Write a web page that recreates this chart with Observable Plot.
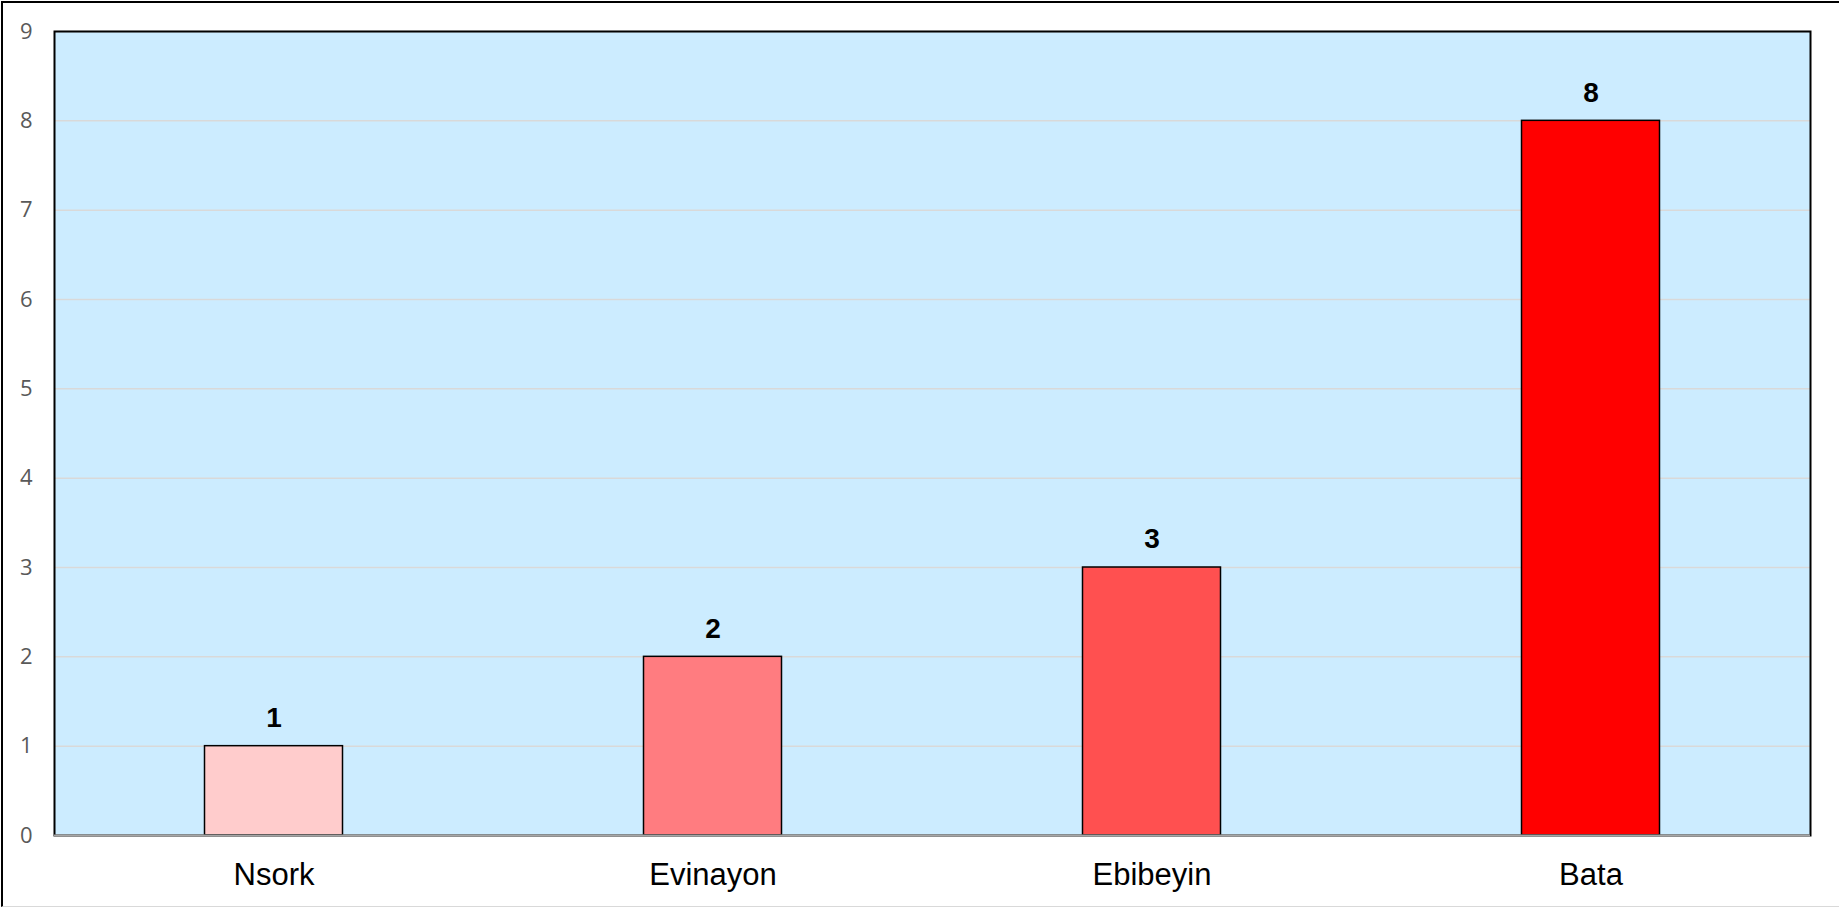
<!DOCTYPE html>
<html>
<head>
<meta charset="utf-8">
<script src="https://cdn.jsdelivr.net/npm/d3@7"></script>
<script src="https://cdn.jsdelivr.net/npm/@observablehq/plot@0.6"></script>
<style>
  html, body { margin: 0; padding: 0; background: #fff; }
  #wrap { position: relative; width: 1839px; height: 907px; overflow: hidden; }
  #outer { position: absolute; left: 1px; top: 1px; width: 1850px; height: 903px;
           border-top: 2px solid #000; border-left: 2px solid #000; border-bottom: 1px solid #d9d9d9;
           pointer-events: none; }
</style>
</head>
<body>
<div id="wrap"><div id="outer"></div></div>
<script>
const categories = ["Nsork", "Evinayon", "Ebibeyin", "Bata"];
const values = [1, 2, 3, 8];
const colors = ["#FFCCCC", "#FF7C80", "#FF5050", "#FF0000"];
const yTicks = [0, 1, 2, 3, 4, 5, 6, 7, 8, 9];

const data = categories.map((c, i) => ({category: c, value: values[i], color: colors[i]}));

const chart = Plot.plot({
  width: 1839,
  height: 907,
  marginLeft: 54,
  marginTop: 31,
  marginRight: 29,
  marginBottom: 72,
  style: {background: "transparent", overflow: "visible"},
  x: {domain: categories, padding: 0, label: null},
  y: {domain: [0, 9], label: null},
  color: {type: "identity"},
  marks: [
    Plot.frame({fill: "#CCECFF", stroke: null}),
    Plot.gridY(yTicks, {stroke: "#d9d9d9", strokeOpacity: 1, strokeWidth: 1.5}),
    Plot.barY(data, {x: "category", y: "value", fill: "color", stroke: "#000", strokeWidth: 1.5, insetLeft: 150.5, insetRight: 150.5}),
    Plot.frame({stroke: "#000", strokeWidth: 2, fill: null}),
    Plot.ruleY([0], {stroke: "#a6a6a6", strokeWidth: 2}),
    Plot.text(data, {x: "category", y: "value", text: d => String(d.value), dy: -28, lineAnchor: "middle",
      fontSize: 28, fontWeight: "bold", fontFamily: "Liberation Sans, Arial, sans-serif", fill: "#000"}),
    Plot.axisY({ticks: yTicks, tickSize: 0, tickPadding: 22, fontSize: 22, fontFamily: "'Open Sans', sans-serif", color: "#595959", label: null}),
    Plot.axisX({tickSize: 0, tickPadding: 27, fontSize: 31, fontFamily: "Liberation Sans, Arial, sans-serif", color: "#000", label: null})
  ]
});
document.getElementById("wrap").insertBefore(chart, document.getElementById("outer"));
</script>
</body>
</html>
